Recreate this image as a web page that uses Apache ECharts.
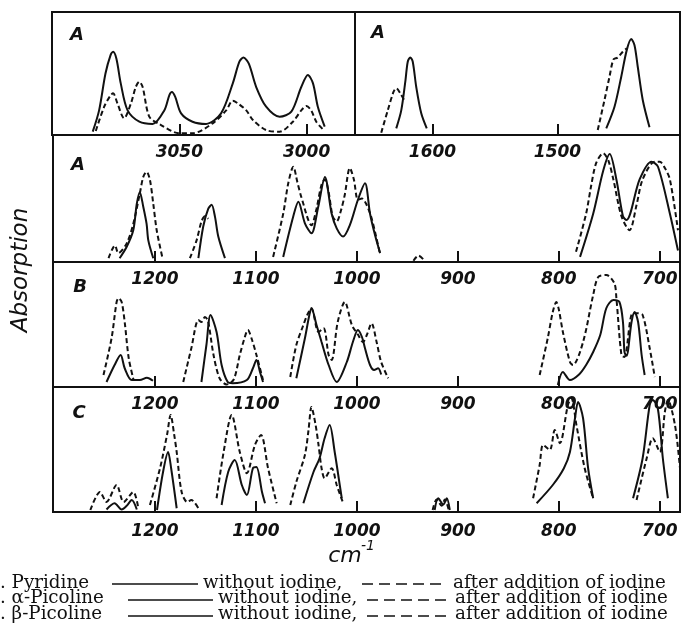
<!DOCTYPE html>
<html>
<head>
<meta charset="utf-8">
<script src="https://cdn.jsdelivr.net/npm/echarts@6/dist/echarts.min.js"></script>
<style>
html, body { margin: 0; background: #fff; }
#chart { width: 681px; height: 633px; }
</style>
</head>
<body>
<div id="chart"></div>
<script>
// tick labels
const ticksCH = [3050, 3000]
const ticksRing = [1600, 1500]
const ticksLow = [1200, 1100, 1000, 900, 800, 700]

// A - pyridine, C-H stretch region  [cm-1, absorption]
const pyrChSolid = [[[3084,2.7],[3081.5,20],[3079,50],[3077,65],[3076,67.7],[3074.7,62],[3073,42],[3070.3,20],[3065.7,10.8],[3060.5,9],[3055.9,20],[3053.9,32.5],[3052.9,35],[3051.6,31],[3049.3,17.6],[3044.8,10.8],[3039.5,9],[3033.6,17.6],[3029,42],[3026.4,59.6],[3024.8,63],[3022.7,58],[3019.8,39],[3015.9,23],[3010.6,14.9],[3006,19],[3002.1,39],[2999.5,48.8],[2997.5,42],[2995.6,23],[2992.9,6.8]]]
const pyrChDashed = [[[3082.8,3.3],[3079.5,23],[3076.9,32.5],[3076,33.9],[3074.3,25.7],[3071.7,13.6],[3069,25.7],[3067.1,39],[3065.7,43.3],[3064.4,39],[3061.8,14.9],[3057.9,9],[3050,1.4],[3044.8,1.4],[3036.9,9.5],[3031.6,20],[3029,27.9],[3027,25.7],[3023.7,20],[3021.1,12.2],[3015.9,4],[3010.6,2.7],[3005.4,10.8],[3002.1,20],[3000.1,23.6],[2998.2,20],[2996.2,10.8],[2993.6,4.6]]]

// A - pyridine, ring region
const pyrRingSolid = [
  [[1629,5.4],[1625,20],[1621.6,44.7],[1619.8,59.6],[1617.8,63],[1615.8,59.6],[1613,39],[1609,17.6],[1604.6,5.4]],
  [[1461,5.4],[1454.4,23],[1449,47.4],[1444.6,69],[1441,78],[1438.4,73],[1435.8,55.5],[1431.8,28.5],[1426.4,6.3]]
]
const pyrRingDashed = [
  [[1641,1.9],[1635.8,20],[1631.2,35],[1629,38],[1625.8,33.9],[1622.4,27.9]],
  [[1467.8,4],[1462.4,28.5],[1458.4,47.4],[1455.2,61.5],[1451.8,63],[1447.8,67.7],[1444.6,70.5]]
]

// A - pyridine, 1300-680
const pyrLowSolid = [
  [[1235,3],[1228,12],[1221.5,25],[1218,46],[1215,55],[1211.6,43.5],[1208.3,30],[1206.6,17],[1201.7,3]],
  [[1157,3],[1152.2,28],[1147.2,42],[1143.9,45],[1140.6,35.7],[1137.3,20],[1130.7,3]],
  [[1073,4],[1063,36],[1058,47.5],[1051.5,30.5],[1045,22.6],[1038.3,43.5],[1031.7,67],[1025,38],[1020,26.5],[1013.7,20],[1007,29],[999,49],[992,62],[987,38],[982,21],[977,7]],
  [[779,4],[766,38],[756,72],[749.6,85],[743,65],[736.5,36],[733,33],[720,65],[708.3,79],[701.8,75],[690,38],[682,9]]
]
const pyrLowDashed = [
  [[1246,3],[1239.6,13],[1236.3,7],[1228,14.7],[1221.5,30],[1215,54],[1211.6,67],[1208.3,71],[1205,64.6],[1201.7,46],[1198.3,25],[1192.8,4]],
  [[1165.4,3],[1158.8,17],[1153.9,32],[1150.5,36],[1147.2,34]],
  [[1083,4],[1073,38],[1068,62],[1063,75],[1059,63],[1055,51],[1045,29],[1040,42],[1035,61],[1031.7,65],[1028,55],[1024,36],[1020,32],[1016,40],[1012,53],[1007,74],[1003,65],[999,49],[995,50],[991,46],[986,36],[981,20],[977,6]],
  [[944,1],[939,5],[933,1]],
  [[783,8],[773,38],[768,60],[763,78],[756,85.6],[751,80],[746,65],[738,36],[730,25],[723,45],[717,65],[705,79],[700,79],[695,74],[690,65],[682,25]]
]

// B - alpha-picoline
const aPicSolid = [
  [[1248,4],[1240,17.6],[1234,25.6],[1230,15],[1223,5.6],[1215,5.6],[1208,7.5],[1202,5]],
  [[1154,4],[1149,34],[1145,57.6],[1139,44],[1134,17.6],[1128,4],[1123,3],[1109,5.6],[1103,15],[1099.5,21.6],[1096,12],[1093,4]],
  [[1060,7],[1051.5,39],[1047,58],[1045,63],[1040,49.6],[1035,36],[1028,17.6],[1020,4],[1010,20],[1004,36],[999,45.6],[995,40],[992,31],[987,17.6],[983,13.6],[979,15],[976,10]],
  [[801,1.6],[796,12],[789,5.6],[780,10],[773,17.6],[766,28],[759,41.6],[753,63],[746,69.6],[740,68],[736.5,52],[735,28],[733,25],[728,52],[725,60],[721.5,52],[718,25.6],[715,9.6]]
]
const aPicDashed = [
  [[1251,9.6],[1243,39],[1238,68],[1236,71],[1233,68],[1230,52],[1226,23],[1221,5]],
  [[1172,4],[1164,31],[1157,53.6],[1154,52],[1150.5,56],[1147.5,53],[1142,25.6],[1136,7],[1129,2],[1122,6],[1116,25.6],[1111,40],[1108,45.6],[1104,38],[1099.5,25.6],[1093,5.6]],
  [[1066,8],[1060,33.6],[1053,49.6],[1049,58],[1045,63],[1038,44],[1033,47],[1028,25.6],[1025,21.6],[1019,52],[1012,68],[1005,49.6],[999,42],[994,36],[990,42],[985.5,51],[980.5,36],[976,20],[969,7]],
  [[819,9.6],[811,39],[806,60],[802.5,68],[800,62],[796,44],[789,20],[786,17.6],[776,36],[766,73.6],[761,88],[753,89.6],[745,83],[743,71],[738,25.6],[735,24],[727,59],[722,59],[717,57.6],[710,31],[705,8]]
]

// C - beta-picoline
const bPicSolid = [
  [[1248,2],[1240,7],[1233,2],[1228,5],[1223,9.6],[1218,2]],
  [[1198,1.6],[1192,32],[1187,48],[1184,35],[1178.5,3]],
  [[1134,5.6],[1127.5,32],[1121,41.6],[1114,21.6],[1109,13.6],[1103,35],[1099.5,36],[1094,16],[1091,7]],
  [[1053,7],[1043,32],[1037,43],[1032,59],[1027,69.6],[1022,48],[1017,21.6],[1015,11]],
  [[923,1.6],[919.5,11],[914.5,6],[911,11],[908,1.6]],
  [[822,7],[806,21.6],[795,35],[789,48],[784,75],[781,88],[776,75],[771,35],[766,11]],
  [[726.5,11],[717,43],[710,85.6],[707,89.6],[702,83],[697,43],[692,11]]
]
const bPicDashed = [
  [[1264,1.6],[1254.5,16],[1248,8],[1238,21.6],[1231,8],[1221.5,16],[1216.5,3]],
  [[1205,5.6],[1195,35],[1188,62],[1184.5,77.6],[1181,62],[1178.5,48],[1173.6,16],[1168,8],[1164,9.6],[1157,3]],
  [[1139,11],[1132,48],[1124,77.6],[1116,48],[1109,31],[1101,53.6],[1095,61.6],[1088,35],[1079.5,7]],
  [[1066,5.6],[1060,24],[1051.5,45.6],[1048,65],[1045,84],[1041,70],[1038,53.6],[1035,35],[1032,27],[1025,35],[1020,21.6],[1014,8]],
  [[925,1.6],[921,10],[916,5],[913,10],[909,1.6]],
  [[825.5,11],[819,37.6],[815.6,53.6],[809,49.6],[804,65.6],[799,55],[791,85.6],[787.6,91],[782.6,69.6],[774.4,35],[766,11]],
  [[723,9.6],[713,43],[707,59],[700,48],[695,80],[692,89.6],[685,69.6],[680,35]]
]

const ink = '#111'
const chart = echarts.init(document.getElementById('chart'))

const grids = [
  { left: 52, top: 12, width: 303, height: 123 },
  { left: 355, top: 12, width: 325, height: 123 },
  { left: 53, top: 135, width: 627, height: 127 },
  { left: 53, top: 262, width: 627, height: 125 },
  { left: 53, top: 387, width: 627, height: 125 }
].map(g => Object.assign(g, { show: true, borderColor: ink, borderWidth: 2, containLabel: false }))

function xAxis(idx, min, max, ticks, margin) {
  return {
    gridIndex: idx, type: 'value', inverse: true, min: min, max: max,
    axisLine: { show: true, lineStyle: { color: ink, width: 2 } },
    axisTick: { show: true, inside: true, length: 11, customValues: ticks, lineStyle: { color: ink, width: 2 } },
    axisLabel: {
      customValues: ticks, margin: margin, color: ink,
      formatter: v => String(v),
      fontStyle: 'italic', fontWeight: 'bold', fontSize: 17, fontFamily: 'DejaVu Sans'
    },
    splitLine: { show: false }
  }
}

const series = []
function addCurve(segments, idx, dashed) {
  segments.forEach(seg => {
    series.push({
      type: 'line', xAxisIndex: idx, yAxisIndex: idx,
      data: seg, smooth: 0.3, showSymbol: false, symbol: 'none',
      silent: true, animation: false,
      lineStyle: { color: ink, width: 2, type: dashed ? [5, 3] : 'solid' }
    })
  })
}
addCurve(pyrChSolid, 0, false); addCurve(pyrChDashed, 0, true)
addCurve(pyrRingSolid, 1, false); addCurve(pyrRingDashed, 1, true)
addCurve(pyrLowSolid, 2, false); addCurve(pyrLowDashed, 2, true)
addCurve(aPicSolid, 3, false); addCurve(aPicDashed, 3, true)
addCurve(bPicSolid, 4, false); addCurve(bPicDashed, 4, true)

const letterFont = 'italic bold 18px "DejaVu Sans"'
const serif = '18.3px "DejaVu Serif"'
function txt(x, y, text, font, align) {
  return { type: 'text', x: x, y: y, silent: true,
    style: { text: text, font: font, fill: ink, align: align || 'left', verticalAlign: 'middle' } }
}
function rule(x1, x2, y, dashed) {
  return { type: 'line', silent: true, shape: { x1: x1, y1: y, x2: x2, y2: y },
    style: { stroke: ink, lineWidth: 1.5, lineDash: dashed ? [11, 6] : null } }
}

const graphic = [
  txt(77, 35, 'A', letterFont, 'center'),
  txt(378, 33, 'A', letterFont, 'center'),
  txt(78, 165, 'A', letterFont, 'center'),
  txt(80, 287, 'B', letterFont, 'center'),
  txt(79, 413, 'C', letterFont, 'center'),
  { type: 'text', x: 21, y: 270, rotation: Math.PI / 2, silent: true,
    style: { text: 'Absorption', font: 'italic 23px "DejaVu Sans"', fill: ink, align: 'center', verticalAlign: 'middle' } },
  txt(345, 556, 'cm', 'italic 22px "DejaVu Sans"', 'center'),
  txt(361, 546, '-1', 'italic 14px "DejaVu Sans"', 'left'),
  txt(0, 583, '. Pyridine', serif), rule(112, 198, 584, false),
  txt(203, 583, 'without iodine,', serif), rule(362, 447, 584, true),
  txt(453, 583, 'after addition of iodine', serif),
  txt(0, 598, '. \u03b1-Picoline', serif), rule(128, 213, 600, false),
  txt(218, 598, 'without iodine,', serif), rule(367, 450, 600, true),
  txt(455, 598, 'after addition of iodine', serif),
  txt(0, 614, '. \u03b2-Picoline', serif), rule(128, 213, 616, false),
  txt(218, 614, 'without iodine,', serif), rule(367, 450, 616, true),
  txt(455, 614, 'after addition of iodine', serif)
]

chart.setOption({
  animation: false,
  backgroundColor: '#fff',
  grid: grids,
  xAxis: [
    xAxis(0, 2981, 3100, ticksCH, 9),
    xAxis(1, 1402, 1662, ticksRing, 9),
    xAxis(2, 680, 1301, ticksLow, 9),
    xAxis(3, 680, 1301, ticksLow, 9),
    xAxis(4, 680, 1301, ticksLow, 11)
  ],
  yAxis: [0, 1, 2, 3, 4].map(i => ({ gridIndex: i, type: 'value', min: 0, max: 100, show: false })),
  series: series,
  graphic: graphic
})
</script>
</body>
</html>
